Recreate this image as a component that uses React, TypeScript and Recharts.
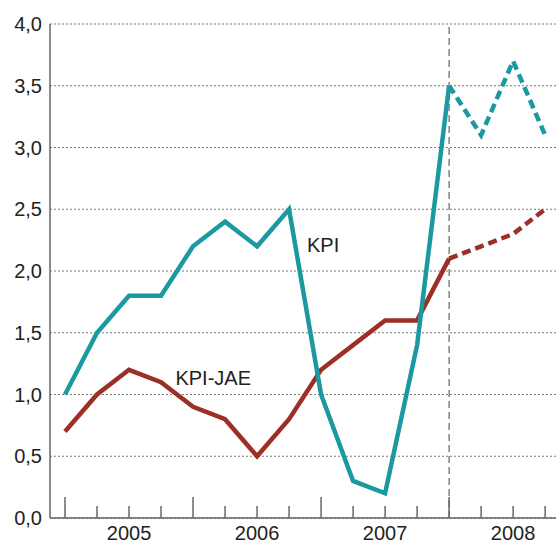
import { LineChart, Line, XAxis, YAxis, CartesianGrid, ReferenceLine, ReferenceDot } from 'recharts'

// quarters 2005Q1 .. 2008Q4, forecast from 2008Q1 (index 12)
const KPI = [1.0, 1.5, 1.8, 1.8, 2.2, 2.4, 2.2, 2.5, 1.0, 0.3, 0.2, 1.4, 3.5, 3.1, 3.7, 3.1]
const KPI_JAE = [0.7, 1.0, 1.2, 1.1, 0.9, 0.8, 0.5, 0.8, 1.2, 1.4, 1.6, 1.6, 2.1, 2.2, 2.3, 2.5]
const FORECAST_FROM = 12
const YEARS = ['2005', '2006', '2007', '2008']
const Y_TICKS = [0, 0.5, 1, 1.5, 2, 2.5, 3, 3.5, 4]

const TEAL = '#1a9aa0'
const RED = '#9c2f26'
const AXIS = '#666'

const data = KPI.map((v, i) => ({
  q: i,
  kpi: i <= FORECAST_FROM ? v : null,
  kpiF: i >= FORECAST_FROM ? v : null,
  jae: i <= FORECAST_FROM ? KPI_JAE[i] : null,
  jaeF: i >= FORECAST_FROM ? KPI_JAE[i] : null,
}))

const quarterTicks = KPI.map((_, i) => i)
const yearTicks = YEARS.map((_, i) => i * 4 + 2)

const font = '"Liberation Sans", Arial, sans-serif'

function QuarterTick(props: any) {
  const { x, y, payload } = props
  const len = payload.value % 4 === 0 ? 21 : 12
  return <line x1={x} x2={x} y1={y - len} y2={y} stroke={AXIS} strokeWidth={1.5} />
}

function textLabel(value: string) {
  return (props: any) => {
    const vb = props.viewBox
    return (
      <text x={vb.x} y={vb.y} fontSize={20} fontFamily={font} fill="#222">
        {value}
      </text>
    )
  }
}

export default function App() {
  return (
    <div style={{ position: 'absolute', left: 0, top: 0, background: '#fff' }}>
      <LineChart
        width={558}
        height={544}
        data={data}
        margin={{ top: 24, right: 2, left: 0, bottom: 0 }}
      >
        <CartesianGrid vertical={false} stroke="#777" strokeDasharray="2 2" />
        <XAxis
          xAxisId="q"
          dataKey="q"
          type="number"
          domain={[-0.469, 15.34]}
          allowDataOverflow
          ticks={quarterTicks}
          height={2}
          tickSize={0}
          tickMargin={0}
          tickLine={false}
          axisLine={{ stroke: AXIS, strokeWidth: 1.5 }}
          tick={<QuarterTick />}
          interval={0}
        />
        <XAxis
          xAxisId="y"
          dataKey="q"
          type="number"
          domain={[-0.469, 15.34]}
          allowDataOverflow
          ticks={yearTicks}
          height={24}
          tickSize={0}
          tickMargin={6}
          tickLine={false}
          axisLine={false}
          interval={0}
          tickFormatter={(v: number) => YEARS[Math.round((v - 2) / 4)]}
          tick={{ fontSize: 20, fontFamily: font, fill: '#222' }}
        />
        <YAxis
          domain={[0, 4]}
          ticks={Y_TICKS}
          width={50}
          tickSize={0}
          tickMargin={8}
          tickLine={false}
          axisLine={{ stroke: AXIS, strokeWidth: 1.5 }}
          interval={0}
          tickFormatter={(v: number) => v.toFixed(1).replace('.', ',')}
          tick={{ fontSize: 20, fontFamily: font, fill: '#222' }}
        />
        <ReferenceLine xAxisId="q" x={FORECAST_FROM} stroke="#444" strokeDasharray="7 4" strokeWidth={1} />
        <Line xAxisId="q" dataKey="jae" stroke={RED} strokeWidth={4.5} dot={false} isAnimationActive={false} />
        <Line xAxisId="q" dataKey="jaeF" stroke={RED} strokeWidth={4.5} strokeDasharray="9 5" dot={false} isAnimationActive={false} />
        <Line xAxisId="q" dataKey="kpi" stroke={TEAL} strokeWidth={4.5} dot={false} isAnimationActive={false} />
        <Line xAxisId="q" dataKey="kpiF" stroke={TEAL} strokeWidth={4.5} strokeDasharray="9 5" dot={false} isAnimationActive={false} />
        <ReferenceDot xAxisId="q" x={7.56} y={2.15} r={0} label={textLabel('KPI')} />
        <ReferenceDot xAxisId="q" x={3.45} y={1.08} r={0} label={textLabel('KPI-JAE')} />
      </LineChart>
    </div>
  )
}
